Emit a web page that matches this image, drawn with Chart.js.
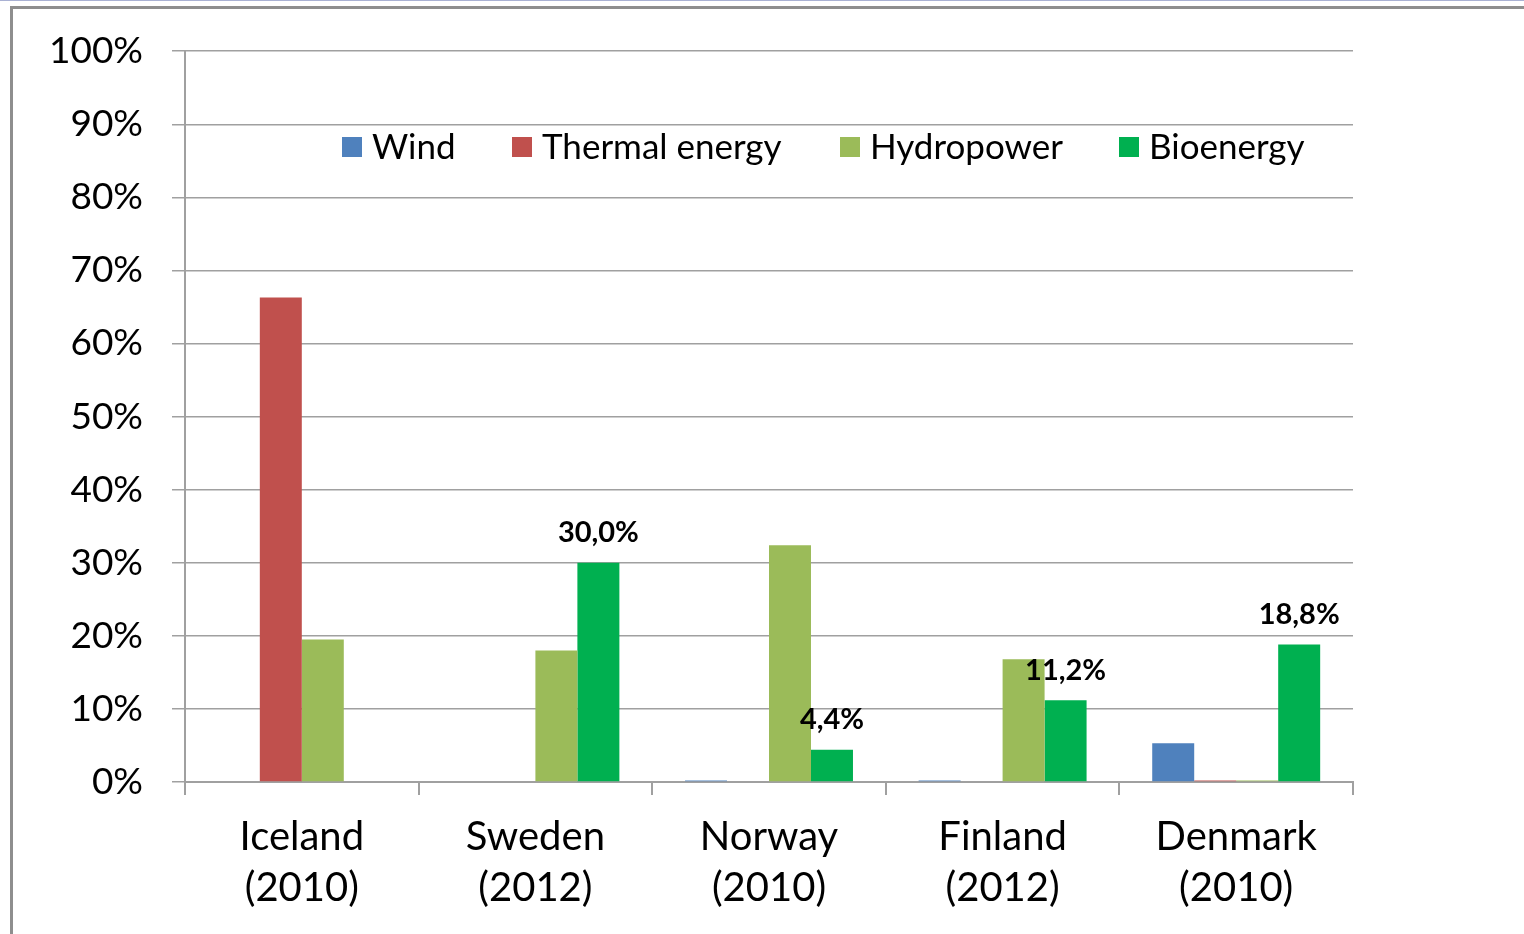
<!DOCTYPE html>
<html>
<head>
<meta charset="utf-8">
<script src="https://cdn.jsdelivr.net/npm/chart.js@4.4.1/dist/chart.umd.min.js"></script>
<style>
  html, body { margin: 0; padding: 0; background: #fff; }
  #wrap { position: relative; width: 1524px; height: 934px; overflow: hidden; }
  #topLine { position: absolute; left: 0; top: 0; width: 1524px; height: 1px; background: #a9b1d3; }
  #frame { position: absolute; left: 10px; top: 6px; width: 1600px; height: 1000px;
           border-top: 3px solid #8e8e8e; border-left: 3px solid #8e8e8e; }
  #grafica { position: absolute; left: 0; top: 0; }
</style>
</head>
<body>
<div id="wrap">
  <div id="topLine"></div>
  <div id="frame"></div>
  <canvas id="grafica" width="1524" height="934"></canvas>
</div>
<script>
// datos del gráfico
const paises = [['Iceland', '(2010)'], ['Sweden', '(2012)'], ['Norway', '(2010)'], ['Finland', '(2012)'], ['Denmark', '(2010)']];
const viento = [0, 0, 0.2, 0.2, 5.3];
const termica = [66.3, 0, 0, 0, 0.2];
const hidro = [19.5, 18.0, 32.4, 16.8, 0.2];
const bioenergia = [0, 30.0, 4.4, 11.2, 18.8];
const etiquetasBio = ['', '30,0%', '4,4%', '11,2%', '18,8%'];
const ticksY = [0, 10, 20, 30, 40, 50, 60, 70, 80, 90, 100];

const fuente = 'Lato, "Open Sans", sans-serif';

// leyenda dentro del área del gráfico (posición x de cada cuadro)
const posLeyenda = [342, 512, 840, 1119];
const leyendaPlugin = {
    id: 'leyendaInterna',
    afterDraw(chart) {
        const ctx = chart.ctx;
        ctx.save();
        ctx.font = '35px ' + fuente;
        ctx.textBaseline = 'middle';
        ctx.textAlign = 'left';
        const y = 147;
        chart.data.datasets.forEach((ds, i) => {
            const x = posLeyenda[i];
            ctx.fillStyle = ds.backgroundColor;
            ctx.fillRect(x, y - 10, 20, 20);
            ctx.fillStyle = '#000';
            ctx.fillText(ds.label, x + 30, y + 1);
        });
        ctx.restore();
    }
};

// etiquetas de valor sobre las barras de bioenergía
const etiquetasPlugin = {
    id: 'etiquetasBio',
    afterDatasetsDraw(chart) {
        const ctx = chart.ctx;
        const meta = chart.getDatasetMeta(3);
        ctx.save();
        ctx.font = 'bold 29px ' + fuente;
        ctx.fillStyle = '#000';
        ctx.textAlign = 'center';
        ctx.textBaseline = 'middle';
        meta.data.forEach((bar, i) => {
            if (!etiquetasBio[i]) return;
            ctx.fillText(etiquetasBio[i], bar.x, bar.y - 30);
        });
        ctx.restore();
    }
};

const colorEje = '#a0a0a0';

new Chart(document.getElementById('grafica').getContext('2d'), {
    type: 'bar',
    data: {
        labels: paises,
        datasets: [
            { label: 'Wind', data: viento, backgroundColor: '#4f81bd' },
            { label: 'Thermal energy', data: termica, backgroundColor: '#c0504d' },
            { label: 'Hydropower', data: hidro, backgroundColor: '#9bbb59' },
            { label: 'Bioenergy', data: bioenergia, backgroundColor: '#00b050' }
        ]
    },
    options: {
        responsive: false,
        animation: false,
        layout: { padding: { left: 0, top: 50, right: 171, bottom: 0 } },
        datasets: { bar: { categoryPercentage: 0.719, barPercentage: 1.0, borderWidth: 0 } },
        plugins: {
            legend: { display: false },
            tooltip: { enabled: false }
        },
        scales: {
            x: {
                afterFit: scale => { scale.height = 152; },
                grid: {
                    offset: true,
                    drawOnChartArea: false,
                    drawTicks: true,
                    tickLength: 13,
                    color: colorEje,
                    lineWidth: 2
                },
                border: { display: true, color: colorEje, width: 2 },
                ticks: {
                    color: '#000',
                    padding: 17,
                    maxRotation: 0,
                    font: { family: fuente, size: 40, lineHeight: 1.275 }
                }
            },
            y: {
                min: 0,
                max: 100,
                afterFit: scale => { scale.width = 185; },
                afterBuildTicks: scale => { scale.ticks = ticksY.map(v => ({ value: v })); },
                grid: {
                    color: colorEje,
                    lineWidth: 1.5,
                    tickLength: 13
                },
                border: { display: true, color: colorEje, width: 2 },
                ticks: {
                    color: '#000',
                    padding: 29,
                    font: { family: fuente, size: 37 },
                    callback: value => value + '%'
                }
            }
        }
    },
    plugins: [leyendaPlugin, etiquetasPlugin]
});
</script>
</body>
</html>
